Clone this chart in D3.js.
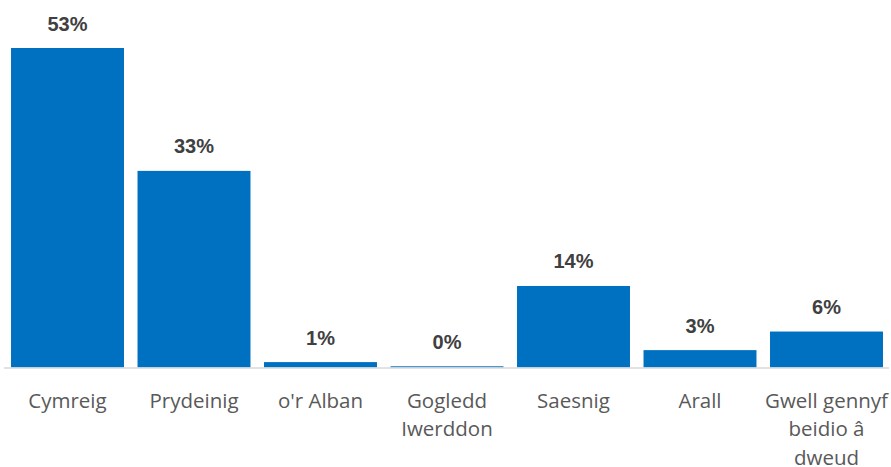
<!DOCTYPE html>
<html><head><meta charset="utf-8">
<script src="https://cdn.jsdelivr.net/npm/d3@7"></script>
<style>html,body{margin:0;padding:0;background:#fff;}</style>
</head><body>
<svg id="chart" width="891" height="467"></svg>
<script>
const categories = [["Cymreig"],["Prydeinig"],["o'r Alban"],["Gogledd","Iwerddon"],["Saesnig"],["Arall"],["Gwell gennyf","beidio â","dweud"]];
const values = [53.3, 32.8, 0.9, 0.2, 13.6, 2.9, 6.0];
const valueLabels = ["53%","33%","1%","0%","14%","3%","6%"];

const svg = d3.select("#chart");
const x = d3.scaleBand().domain(d3.range(categories.length)).range([4.25, 889.75]).paddingInner(0.107).paddingOuter(0.0535);
const y = d3.scaleLinear().domain([0, 53.3]).range([367.5, 48]);

svg.append("g").selectAll("rect").data(values).join("rect")
  .attr("x", (d,i)=>x(i)).attr("width", x.bandwidth())
  .attr("y", d=>y(d)).attr("height", d=>y(0)-y(d))
  .attr("fill", "#0070C0");

svg.append("line").attr("x1", 4).attr("x2", 889).attr("y1", y(0)+0.5).attr("y2", y(0)+0.5)
  .attr("stroke", "#d9d9d9").attr("stroke-width", 1.5);

svg.append("g").selectAll("text").data(values).join("text")
  .attr("x", (d,i)=>x(i)+x.bandwidth()/2).attr("y", d=>y(d)-17.5)
  .attr("text-anchor","middle").attr("font-family","'Liberation Sans', Arial, sans-serif")
  .attr("font-weight","bold").attr("font-size","20px").attr("fill","#404040")
  .text((d,i)=>valueLabels[i]);

const cat = svg.append("g").selectAll("text").data(categories).join("text")
  .attr("text-anchor","middle").attr("font-family","'Open Sans', sans-serif")
  .attr("font-size","20.5px").attr("fill","#595959");
cat.each(function(lines,i){
  const t = d3.select(this);
  lines.forEach((l,j)=>{
    t.append("tspan").attr("x", x(i)+x.bandwidth()/2).attr("y", 407.5 + j*28.6).text(l);
  });
});
</script>
</body></html>
